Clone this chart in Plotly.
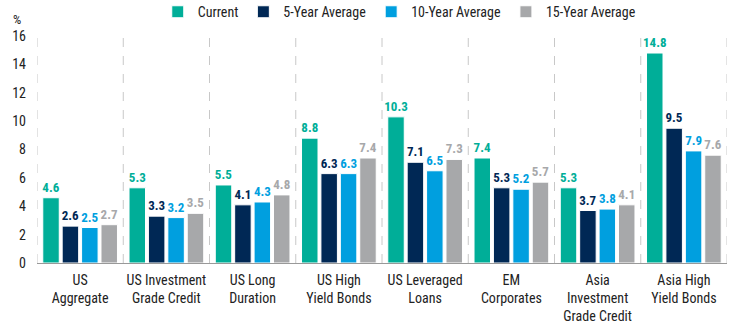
import plotly.graph_objects as go

categories = ["US<br>Aggregate", "US Investment<br>Grade Credit", "US Long<br>Duration",
              "US High<br>Yield Bonds", "US Leveraged<br>Loans", "EM<br>Corporates",
              "Asia<br>Investment<br>Grade Credit", "Asia High<br>Yield Bonds"]
series_names = ["Current", "5-Year Average", "10-Year Average", "15-Year Average"]
current = [4.6, 5.3, 5.5, 8.8, 10.3, 7.4, 5.3, 14.8]
avg5 = [2.6, 3.3, 4.1, 6.3, 7.1, 5.3, 3.7, 9.5]
avg10 = [2.5, 3.2, 4.3, 6.3, 6.5, 5.2, 3.8, 7.9]
avg15 = [2.7, 3.5, 4.8, 7.4, 7.3, 5.7, 4.1, 7.6]
y_ticks = [0, 2, 4, 6, 8, 10, 12, 14, 16]

colors = ["#00ae98", "#002855", "#009fdf", "#a7a8aa"]
FONT = "Roboto Condensed, Liberation Sans Narrow, Roboto, sans-serif"

fig = go.Figure()
for name, vals, col in zip(series_names, [current, avg5, avg10, avg15], colors):
    fig.add_trace(go.Bar(
        x=list(range(len(categories))), y=vals, name=name,
        marker=dict(color=col, line=dict(color="white", width=1)),
        text=[f"{v:.1f}" for v in vals], textposition="outside",
        textfont=dict(color=col, size=13, family=FONT, weight="bold"),
        constraintext="none", cliponaxis=False,
    ))

for i in range(len(categories) + 1):
    fig.add_shape(type="line", xref="x", yref="y", x0=i - 0.5, x1=i - 0.5, y0=0, y1=16,
                  line=dict(color="#c8c8c8", width=1, dash="dash"), layer="below")

fig.add_annotation(text="%", xref="paper", yref="paper", x=-0.037, y=1.03, xanchor="left",
                   yanchor="bottom", showarrow=False, font=dict(size=13, color="#222", family=FONT))

fig.update_layout(
    width=737, height=325,
    margin=dict(l=37, r=10, t=36, b=62, autoexpand=False),
    plot_bgcolor="white", paper_bgcolor="white",
    font=dict(family=FONT, size=14, color="#222"),
    barmode="group", bargap=0.1, bargroupgap=0.15,
    showlegend=True,
    legend=dict(orientation="h", x=0.175, xanchor="left", y=1.105, yanchor="middle",
                font=dict(size=14, family=FONT), itemwidth=30, tracegroupgap=0),
    xaxis=dict(tickmode="array", tickvals=list(range(len(categories))), ticktext=categories,
               range=[-0.5, 7.5], showline=True, linecolor="#999", linewidth=1,
               ticks="", showgrid=False, tickfont=dict(size=14), ticklabelstandoff=4),
    yaxis=dict(range=[0, 16], tickvals=y_ticks, showgrid=False, zeroline=False,
               showline=False, ticks="", tickfont=dict(size=14), ticklabelstandoff=10),
)

fig.write_html("out.html")
